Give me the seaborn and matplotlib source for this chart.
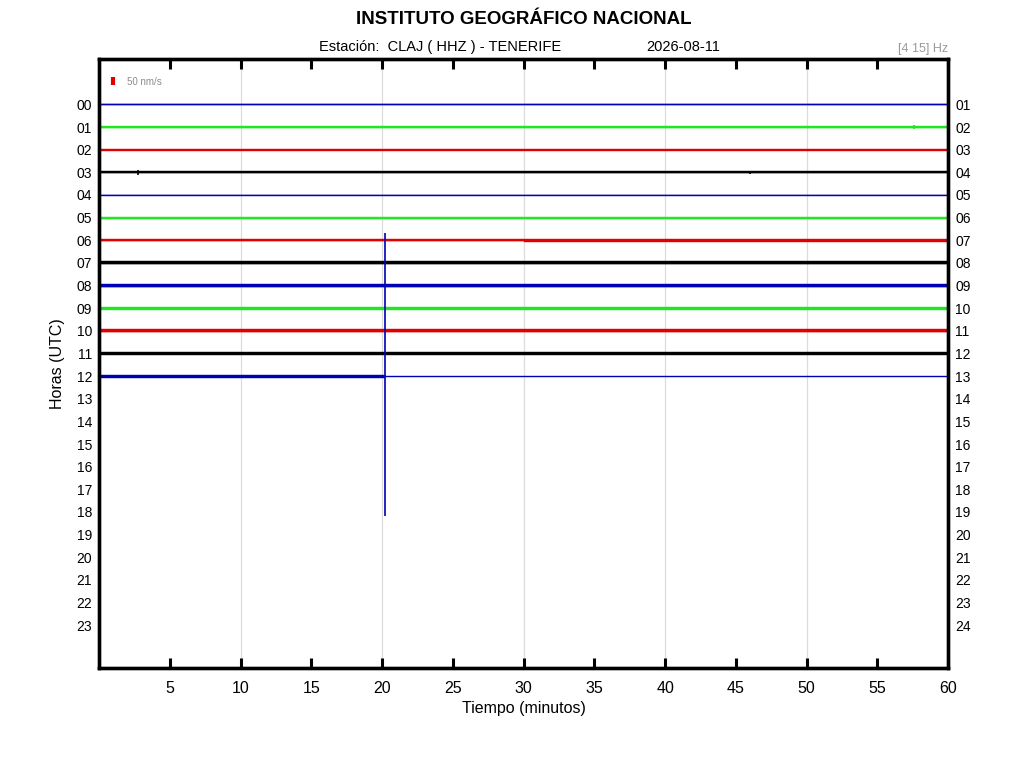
import pandas as pd
import matplotlib
matplotlib.use("Agg")
import matplotlib.pyplot as plt
import seaborn as sns

# Trace segments (hour row, start/end minute, noise half-amplitude in row units)
seg_hour = [0, 1, 2, 3, 4, 5, 6, 6, 7, 8, 9, 10, 11, 12, 12]
seg_start = [0, 0, 0, 0, 0, 0, 0, 30, 0, 0, 0, 0, 0, 0, 20.2]
seg_end = [60, 60, 60, 60, 60, 60, 30, 60, 60, 60, 60, 60, 60, 20.2, 60]
seg_amp = [0.025, 0.045, 0.03, 0.045, 0.02, 0.045, 0.045, 0.065, 0.065, 0.07, 0.065, 0.07, 0.065, 0.07, 0.0]

# Discrete events (spikes)
event_hour = [0, 12, 3, 3, 1]
event_minute = [0.05, 20.2, 2.75, 46.0, 57.6]
event_low = [-1.05, -6.3, -0.12, -0.08, -0.1]
event_high = [1.0, 6.2, 0.1, 0.06, 0.1]

hour_labels_left = [f"{h:02d}" for h in range(24)]
hour_labels_right = [f"{h:02d}" for h in range(1, 25)]
minute_ticks = list(range(5, 61, 5))
trace_colors = ["#0000b4", "#22e622", "#e00000", "#000000"]

sns.set_style("white")
plt.rcParams["font.family"] = ["Liberation Sans", "DejaVu Sans"]
plt.rcParams.update({"text.color": "black", "axes.labelcolor": "black",
                     "xtick.color": "black", "ytick.color": "black"})

fig = plt.figure(figsize=(10.24, 7.68), dpi=100)
ax = fig.add_axes([0.0967, 0.130, 0.8293, 0.793])

# Build long-form table for the trace centre lines
rows = []
for i, (h, s, e) in enumerate(zip(seg_hour, seg_start, seg_end)):
    rows.append({"seg": i, "minute": s, "row": h})
    rows.append({"seg": i, "minute": e, "row": h})
df = pd.DataFrame(rows)
palette = {i: trace_colors[h % 4] for i, h in enumerate(seg_hour)}

for m in range(10, 60, 10):
    ax.axvline(m, color="#dcdcdc", lw=0.9, zorder=0)

sns.lineplot(data=df, x="minute", y="row", hue="seg", palette=palette,
             units="seg", estimator=None, sort=False, legend=False,
             lw=1.0, ax=ax, zorder=2)

for h, s, e, a in zip(seg_hour, seg_start, seg_end, seg_amp):
    if a > 0:
        ax.fill_between([s, e], h - a, h + a, color=trace_colors[h % 4],
                        lw=0.3, zorder=2)

for h, m, lo, hi in zip(event_hour, event_minute, event_low, event_high):
    ax.vlines(m, h + lo, h + hi, color=trace_colors[h % 4], lw=1.2, zorder=3)

# Amplitude scale bar
ax.vlines(1.0, -1.19, -0.84, color="#e00000", lw=3, zorder=3)
ax.text(1.95, -1.0, "50 nm/s", fontsize=7, color="#8c8c8c", va="center")

ax.set_xlim(0, 60)
ax.set_ylim(24.9, -2.0)
ax.set_xticks(minute_ticks)
ax.set_xticklabels([str(t) for t in minute_ticks], fontsize=11.5)
ax.set_yticks(range(24))
ax.set_yticklabels(hour_labels_left, fontsize=10)
ax.tick_params(axis="x", direction="in", length=7, width=2.2,
               bottom=True, top=True, pad=9)
ax.tick_params(axis="y", length=0, pad=5)

ax2 = ax.twinx()
ax2.set_ylim(ax.get_ylim())
ax2.set_yticks(range(24))
ax2.set_yticklabels(hour_labels_right, fontsize=10)
ax2.tick_params(axis="y", length=0, pad=5)

for a_ in (ax, ax2):
    for sp in a_.spines.values():
        sp.set_linewidth(2.4)
        sp.set_color("black")

ax.set_xlabel("Tiempo (minutos)", fontsize=11.5, labelpad=4)
ax.set_ylabel("Horas (UTC)", fontsize=11.5, labelpad=8)

fig.text(0.512, 0.974, "INSTITUTO GEOGRÁFICO NACIONAL", ha="center",
         va="center", fontsize=13.5, fontweight="bold")
fig.text(0.312, 0.939, "Estación:  CLAJ ( HHZ ) - TENERIFE", ha="left",
         va="center", fontsize=10.5)
fig.text(0.631, 0.939, "2026-08-11", ha="left", va="center", fontsize=10.5)
fig.text(0.926, 0.936, "[4 15] Hz", ha="right", va="center", fontsize=9,
         color="#9a9a9a")

plt.savefig("out.png", dpi=100)
plt.close()
